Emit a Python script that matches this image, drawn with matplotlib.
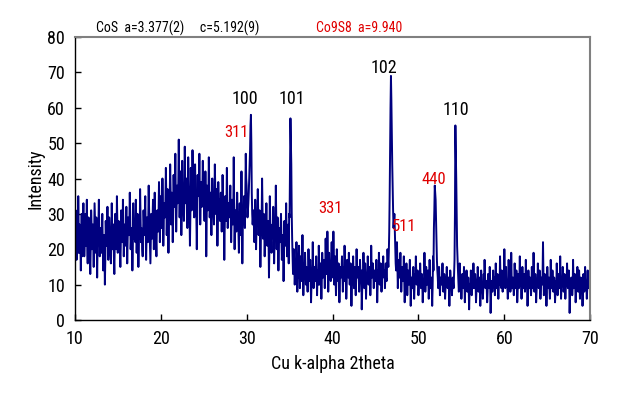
import numpy as np
import matplotlib
matplotlib.use("Agg")
import matplotlib.pyplot as plt

plt.rcParams['font.family'] = ['Roboto Condensed', 'PT Sans Narrow', 'Archivo Narrow', 'Liberation Sans', 'DejaVu Sans']

# 2theta from 10.0 to 70.0, step 0.05 (row = one degree)
two_theta_start = 10.0
two_theta_step = 0.05
intensity = [
    24, 20, 31, 26, 17, 22, 28, 19, 35, 25, 19, 27, 26, 21, 14, 23, 30, 18, 22, 28,   # 10
    33, 24, 18, 21, 27, 30, 21, 25, 34, 20, 16, 22, 29, 26, 24, 19, 13, 20, 31, 27,   # 11
    20, 25, 27, 22, 15, 24, 33, 28, 22, 19, 29, 23, 12, 21, 25, 27, 34, 24, 18, 22,   # 12
    26, 21, 19, 25, 30, 22, 14, 18, 24, 20, 10, 17, 28, 23, 21, 26, 32, 24, 17, 21,   # 13
    29, 25, 23, 19, 16, 24, 33, 27, 20, 22, 27, 18, 13, 21, 30, 26, 24, 20, 35, 28,   # 14
    19, 23, 28, 25, 22, 20, 15, 21, 31, 27, 25, 22, 34, 28, 18, 24, 27, 23, 21, 26,   # 15
    32, 25, 16, 22, 29, 24, 24, 27, 36, 29, 20, 23, 26, 21, 14, 19, 33, 28, 23, 26,   # 16
    27, 22, 34, 28, 19, 24, 30, 26, 15, 21, 28, 23, 37, 30, 22, 26, 25, 20, 18, 24,   # 17
    31, 27, 24, 29, 35, 25, 17, 23, 29, 26, 22, 28, 38, 31, 26, 22, 16, 24, 30, 27,   # 18
    23, 28, 34, 26, 20, 25, 36, 30, 27, 23, 18, 26, 31, 28, 25, 30, 39, 32, 22, 29,   # 19
    35, 28, 26, 31, 40, 33, 21, 27, 33, 29, 29, 34, 43, 35, 24, 30, 37, 32, 19, 28,   # 20
    30, 35, 44, 37, 27, 32, 36, 30, 22, 29, 41, 34, 32, 38, 47, 36, 25, 31, 38, 33,   # 21
    34, 39, 51, 40, 29, 35, 42, 36, 24, 31, 45, 37, 36, 32, 28, 34, 49, 38, 33, 36,   # 22
    40, 34, 26, 32, 46, 38, 35, 31, 21, 29, 43, 36, 31, 35, 48, 39, 37, 33, 29, 34,   # 23
    44, 37, 33, 29, 20, 30, 41, 35, 36, 39, 47, 38, 27, 33, 39, 35, 32, 36, 45, 37,   # 24
    35, 31, 28, 34, 42, 36, 18, 29, 38, 33, 31, 35, 46, 37, 29, 32, 36, 30, 24, 31,   # 25
    40, 34, 33, 30, 27, 33, 44, 36, 30, 34, 37, 31, 21, 28, 39, 33, 34, 30, 28, 32,   # 26
    36, 31, 25, 30, 41, 34, 31, 28, 17, 27, 35, 32, 28, 31, 43, 35, 26, 30, 33, 29,   # 27
    30, 33, 38, 31, 22, 28, 34, 30, 27, 32, 46, 34, 20, 27, 31, 29, 25, 30, 36, 31,   # 28
    28, 25, 19, 27, 33, 29, 24, 30, 42, 31, 16, 26, 30, 28, 35, 31, 26, 36, 47, 40,   # 29
    38, 32, 29, 31, 33, 36, 40, 44, 48, 55, 58, 50, 36, 30, 27, 29, 31, 26, 22, 28,   # 30
    34, 28, 20, 26, 29, 31, 37, 30, 24, 27, 31, 25, 15, 22, 27, 29, 40, 31, 23, 27,   # 31
    30, 26, 18, 23, 26, 28, 33, 27, 21, 25, 28, 24, 12, 20, 35, 28, 24, 22, 19, 24,   # 32
    27, 24, 32, 26, 16, 22, 25, 27, 38, 29, 20, 24, 29, 25, 14, 21, 26, 23, 22, 25,   # 33
    30, 24, 17, 21, 24, 22, 11, 19, 28, 23, 21, 25, 33, 26, 18, 22, 25, 27, 16, 30,   # 34
    29, 45, 57, 50, 44, 30, 23, 18, 13, 17, 20, 15, 10, 14, 17, 12, 22, 16, 8, 13,    # 35
    15, 12, 21, 16, 9, 14, 18, 11, 12, 16, 24, 15, 7, 12, 16, 13, 19, 14, 10, 15,     # 36
    14, 11, 8, 13, 20, 15, 11, 14, 17, 12, 5, 10, 13, 15, 22, 14, 9, 12, 15, 11,      # 37
    11, 14, 18, 13, 7, 12, 14, 10, 21, 15, 10, 13, 16, 12, 6, 11, 19, 14, 12, 15,     # 38
    17, 13, 9, 14, 23, 16, 13, 15, 25, 18, 8, 13, 19, 15, 15, 12, 11, 16, 22, 15,     # 39
    14, 12, 25, 16, 10, 14, 18, 13, 7, 12, 20, 15, 13, 11, 16, 14, 5, 11, 15, 13,     # 40
    12, 14, 18, 13, 8, 12, 15, 11, 21, 14, 11, 13, 6, 10, 17, 14, 13, 12, 19, 14,     # 41
    10, 13, 16, 12, 4, 10, 13, 14, 18, 12, 9, 13, 15, 11, 7, 12, 20, 14, 12, 13,      # 42
    15, 12, 8, 11, 17, 13, 11, 14, 3, 9, 14, 12, 19, 14, 9, 12, 16, 13, 6, 11,        # 43
    13, 11, 18, 14, 10, 12, 15, 13, 7, 11, 21, 15, 12, 14, 16, 12, 9, 13, 14, 12,     # 44
    11, 13, 17, 12, 5, 10, 14, 12, 19, 14, 10, 13, 16, 12, 8, 11, 13, 15, 18, 13,     # 45
    12, 14, 9, 13, 16, 12, 11, 15, 20, 17, 15, 19, 25, 35, 48, 60, 69, 62, 52, 44,    # 46
    37, 31, 26, 28, 30, 25, 20, 16, 14, 18, 22, 15, 9, 13, 17, 12, 12, 15, 19, 13,    # 47
    8, 12, 15, 11, 11, 13, 18, 12, 5, 10, 13, 11, 16, 12, 7, 11, 14, 12, 10, 13,      # 48
    17, 12, 4, 9, 12, 10, 9, 12, 15, 11, 6, 10, 13, 12, 18, 13, 10, 11, 14, 12,       # 49
    7, 10, 12, 11, 16, 12, 9, 11, 13, 10, 5, 9, 11, 12, 19, 13, 8, 11, 15, 12,        # 50
    10, 12, 14, 11, 6, 10, 17, 12, 9, 11, 12, 10, 4, 9, 18, 14, 26, 31, 38, 36,       # 51
    34, 28, 21, 17, 14, 12, 9, 11, 15, 12, 7, 10, 12, 11, 10, 12, 16, 11, 8, 10,      # 52
    13, 11, 6, 9, 11, 12, 15, 11, 9, 10, 12, 11, 4, 9, 14, 12, 10, 11, 7, 10,         # 53
    12, 10, 9, 13, 17, 30, 55, 48, 40, 30, 21, 17, 14, 11, 8, 10, 16, 12, 11, 10,     # 54
    6, 9, 13, 11, 9, 10, 15, 12, 5, 9, 11, 10, 14, 11, 8, 10, 12, 9, 3, 8,            # 55
    10, 9, 14, 11, 7, 10, 12, 9, 16, 11, 9, 10, 13, 11, 5, 8, 11, 10, 15, 11,         # 56
    8, 10, 12, 9, 4, 8, 14, 11, 10, 9, 6, 9, 13, 10, 17, 12, 9, 10, 11, 9,            # 57
    5, 8, 13, 10, 10, 9, 15, 11, 2, 7, 11, 9, 8, 10, 14, 11, 12, 9, 7, 10,            # 58
    16, 11, 9, 10, 13, 9, 6, 9, 12, 10, 18, 12, 10, 9, 14, 10, 8, 9, 11, 10,          # 59
    20, 12, 9, 10, 15, 11, 11, 9, 6, 8, 17, 11, 13, 10, 8, 9, 19, 12, 10, 9,          # 60
    12, 10, 7, 9, 16, 11, 10, 9, 14, 11, 5, 8, 13, 10, 9, 11, 18, 12, 11, 9,          # 61
    6, 9, 15, 11, 10, 9, 13, 10, 8, 10, 17, 12, 11, 9, 4, 8, 14, 11, 9, 10,           # 62
    12, 10, 7, 9, 15, 11, 10, 9, 19, 12, 8, 10, 13, 11, 5, 8, 11, 10, 16, 11,         # 63
    9, 10, 14, 11, 6, 9, 12, 10, 10, 13, 22, 13, 7, 9, 13, 10, 11, 9, 4, 8,           # 64
    15, 11, 9, 10, 12, 9, 6, 9, 17, 11, 10, 9, 14, 10, 8, 9, 12, 10, 5, 8,            # 65
    11, 9, 16, 11, 7, 9, 13, 10, 9, 11, 18, 12, 6, 9, 12, 10, 15, 11, 8, 9,           # 66
    13, 10, 6, 9, 11, 10, 16, 11, 9, 10, 14, 11, 2, 7, 10, 9, 12, 10, 7, 9,           # 67
    17, 11, 9, 10, 13, 10, 5, 8, 11, 10, 15, 11, 8, 9, 14, 11, 6, 9, 12, 10,          # 68
    10, 9, 4, 8, 13, 10, 8, 9, 15, 11, 11, 9, 6, 9, 14, 11, 9, 10, 12, 10,            # 69
    8,                                                                                # 70
]
two_theta = two_theta_start + two_theta_step * np.arange(len(intensity))

# peak labels
cos_labels = ["100", "101", "102", "110"]
cos_label_x = [29.8, 35.3, 46.0, 54.3]
cos_label_y = [62.4, 62.4, 71.2, 59.3]
co9s8_labels = ["311", "331", "511", "440"]
co9s8_label_x = [28.8, 39.7, 48.3, 51.8]
co9s8_label_y = [53.1, 31.4, 26.3, 39.8]

x_ticks = [10, 20, 30, 40, 50, 60, 70]
y_ticks = [0, 10, 20, 30, 40, 50, 60, 70, 80]

fig = plt.figure(figsize=(6.34, 3.98), dpi=100)
ax = fig.add_axes([0.118, 0.196, 0.813, 0.711])
ax.plot(two_theta, intensity, color='#00007F', linewidth=1.4)
ax.set_xlim(10, 70)
ax.set_ylim(0, 80)
ax.set_xticks(x_ticks)
ax.set_yticks(y_ticks)
ax.tick_params(direction='in', top=False, right=False, labelsize=13, length=4, width=1, pad=7)
for side in ['top', 'right']:
    ax.spines[side].set_color('#808080')
    ax.spines[side].set_linewidth(1.5)
for side in ['left', 'bottom']:
    ax.spines[side].set_color('black')
    ax.spines[side].set_linewidth(1.0)
ax.set_xlabel('Cu k-alpha 2theta', fontsize=13, labelpad=5)
ax.set_ylabel('Intensity', fontsize=13, labelpad=2)

for t, x, y in zip(cos_labels, cos_label_x, cos_label_y):
    ax.text(x, y, t, color='black', fontsize=13, ha='center', va='center')
for t, x, y in zip(co9s8_labels, co9s8_label_x, co9s8_label_y):
    ax.text(x, y, t, color='#E00000', fontsize=12, ha='center', va='center')

fig.text(96 / 634, 1 - 28 / 398, 'CoS  a=3.377(2)     c=5.192(9)', fontsize=10, color='black', ha='left', va='center')
fig.text(316 / 634, 1 - 28 / 398, 'Co9S8  a=9.940', fontsize=10, color='#E00000', ha='left', va='center')

fig.savefig('out.png', dpi=100)
